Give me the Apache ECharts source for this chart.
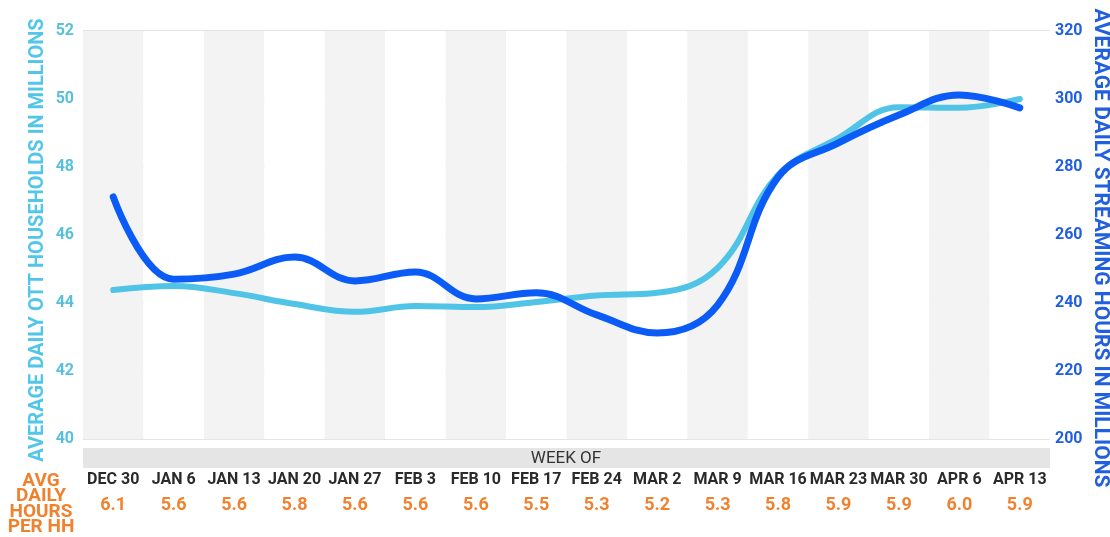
<!DOCTYPE html>
<html>
<head>
<meta charset="utf-8">
<script src="https://cdn.jsdelivr.net/npm/echarts@6/dist/echarts.min.js"></script>
<style>
html,body{margin:0;padding:0;background:#fff;}
#chart{width:1110px;height:537px;}
</style>
</head>
<body>
<div id="chart"></div>
<script>
// ---- data ----
const weeks = ['DEC 30','JAN 6','JAN 13','JAN 20','JAN 27','FEB 3','FEB 10','FEB 17','FEB 24','MAR 2','MAR 9','MAR 16','MAR 23','MAR 30','APR 6','APR 13'];
const hoursPerHH = [6.1,5.6,5.6,5.8,5.6,5.6,5.6,5.5,5.3,5.2,5.3,5.8,5.9,5.9,6.0,5.9];
// Average daily OTT households in millions (left axis)
const ottHouseholds = [44.38,44.5,44.29,43.97,43.74,43.91,43.88,44.03,44.22,44.3,45.03,47.76,48.85,49.76,49.74,50.0];
// Average daily streaming hours in millions (right axis)
const streamingHours = [271.2,247.0,248.5,253.5,246.5,249.1,241.2,243.0,236.5,231.2,239.4,277.0,287.1,295.3,301.2,297.4];
const leftAxisRange = [40, 52, 2];
const rightAxisRange = [200, 320, 20];

const LIGHT = '#4fc4e6';
const DARK = '#0b5cf6';
const ORANGE = '#f0822f';
const FONT = 'Roboto, "Liberation Sans", sans-serif';

const chart = echarts.init(document.getElementById('chart'), null, {renderer: 'canvas'});
chart.setOption({
  animation: false,
  backgroundColor: '#fff',
  grid: {left: 83, right: 60, top: 31, bottom: 98},
  xAxis: [{
    type: 'category',
    data: weeks,
    boundaryGap: true,
    axisLine: {show: false},
    axisTick: {show: false},
    splitLine: {show: false},
    splitArea: {show: true, areaStyle: {color: ['#f3f3f3', '#ffffff']}},
    axisLabel: {margin: 33, color: '#2a2a2a', fontSize: 16, fontWeight: 'bold', fontFamily: FONT, interval: 0}
  }, {
    type: 'category',
    data: weeks,
    boundaryGap: true,
    position: 'bottom',
    axisLine: {show: false},
    axisTick: {show: false},
    splitLine: {show: false},
    axisLabel: {margin: 57, color: ORANGE, fontSize: 18, fontWeight: 'bold', fontFamily: FONT, interval: 0,
      formatter: (v, i) => hoursPerHH[i].toFixed(1)}
  }],
  yAxis: [{
    type: 'value',
    min: leftAxisRange[0], max: leftAxisRange[1], interval: leftAxisRange[2],
    position: 'left',
    axisLine: {show: false}, axisTick: {show: false},
    splitLine: {show: true, lineStyle: {color: '#dcdcdc', width: 1.5}},
    axisLabel: {margin: 9, color: '#58c0dd', fontSize: 16, fontWeight: 'bold', fontFamily: FONT}
  }, {
    type: 'value',
    min: rightAxisRange[0], max: rightAxisRange[1], interval: rightAxisRange[2],
    position: 'right',
    axisLine: {show: false}, axisTick: {show: false},
    splitLine: {show: false},
    axisLabel: {margin: 5, color: '#1f5fe0', fontSize: 16, fontWeight: 'bold', fontFamily: FONT}
  }],
  series: [{
    name: 'OTT households',
    type: 'line',
    xAxisIndex: 0, yAxisIndex: 0,
    data: ottHouseholds,
    smooth: 0.4,
    symbol: 'none',
    lineStyle: {color: LIGHT, width: 6, cap: 'round'},
    z: 3
  }, {
    name: 'Streaming hours',
    type: 'line',
    xAxisIndex: 0, yAxisIndex: 1,
    data: streamingHours,
    smooth: 0.4,
    symbol: 'none',
    lineStyle: {color: DARK, width: 7, cap: 'round'},
    z: 4
  }],
  graphic: [
    {type: 'rect', left: 83, top: 448, shape: {width: 967, height: 20}, style: {fill: '#e5e5e5'}, z: 0},
    {type: 'text', x: 566, y: 459, style: {text: 'WEEK OF', fill: '#333', font: '17px ' + FONT, textAlign: 'center', textVerticalAlign: 'middle'}},
    {type: 'text', x: 41, y: 504, style: {text: 'AVG\nDAILY\nHOURS\nPER HH', fill: ORANGE, font: 'bold 19px ' + FONT, lineHeight: 15.5, textAlign: 'center', textVerticalAlign: 'middle'}},
    {type: 'text', x: 38, y: 240, rotation: Math.PI / 2, style: {text: 'AVERAGE DAILY OTT HOUSEHOLDS IN MILLIONS', fill: '#52c6e8', font: 'bold 20px ' + FONT, textAlign: 'center', textVerticalAlign: 'middle'}},
    {type: 'text', x: 1100, y: 248, rotation: -Math.PI / 2, style: {text: 'AVERAGE DAILY STREAMING HOURS IN MILLIONS', fill: '#1f5fe0', font: 'bold 21px ' + FONT, textAlign: 'center', textVerticalAlign: 'middle'}}
  ]
});
</script>
</body>
</html>
